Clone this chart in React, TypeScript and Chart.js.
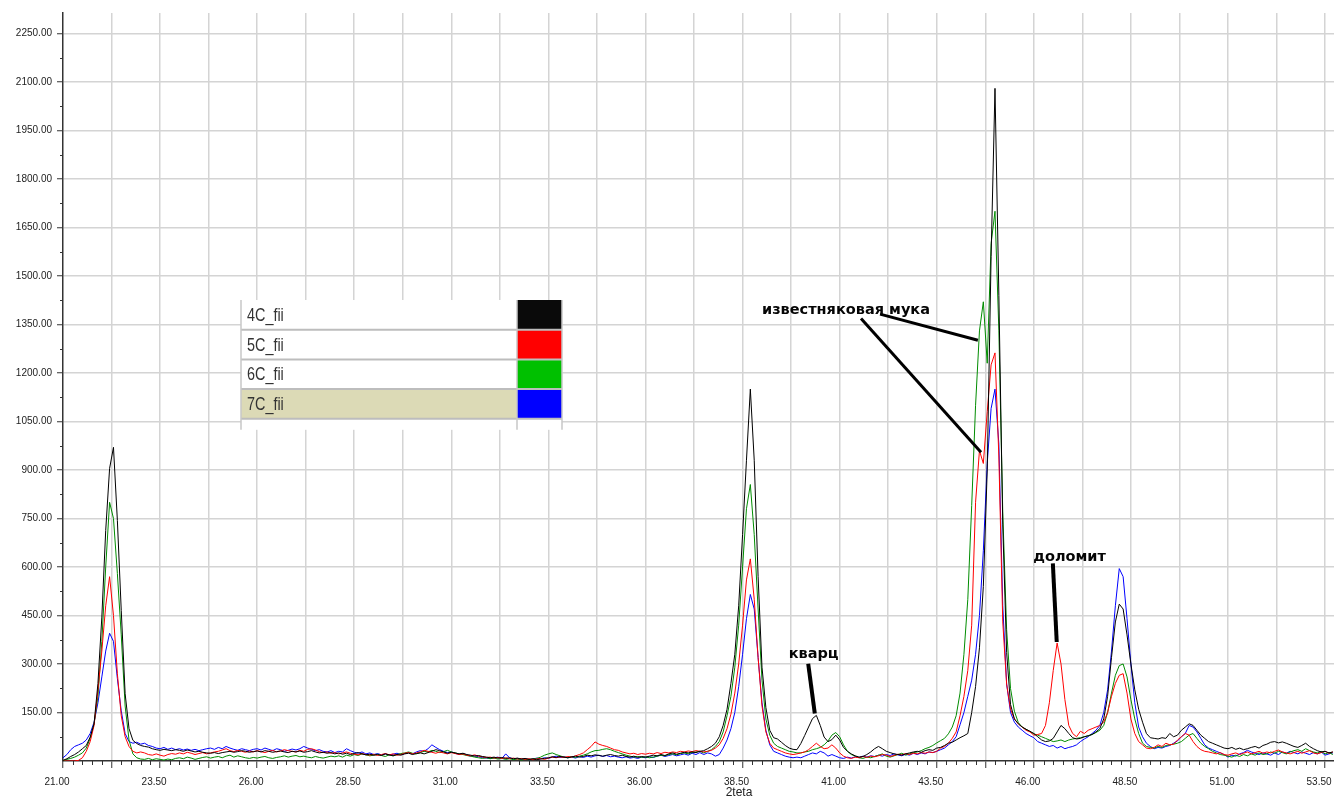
import React, { useEffect, useRef } from "react";
import { Chart, registerables } from "chart.js";

Chart.register(...registerables);

// ---------- data ----------
// 2theta sampling grid: 21.0 .. 53.7, step 0.1
const X_START = 21.0;
const X_STEP = 0.1;

const seriesNames = ["4C_fii", "5C_fii", "6C_fii", "7C_fii"];

// 4C_fii (black)
const s4C = [
  2, 7, 14, 20, 28, 38, 48, 74, 115, 240,
  445, 713, 905, 970, 744, 466, 208, 100, 64, 54,
  48, 45, 43, 38, 35, 33, 36, 34, 32, 35,
  33, 30, 34, 31, 28, 30, 27, 25, 24, 26,
  23, 26, 28, 30, 27, 29, 32, 30, 27, 29,
  31, 28, 32, 30, 27, 29, 31, 28, 26, 30,
  28, 31, 27, 29, 32, 28, 25, 27, 24, 26,
  22, 25, 21, 24, 20, 23, 26, 22, 19, 21,
  18, 20, 17, 22, 19, 16, 20, 18, 22, 24,
  20, 23, 25, 22, 26, 30, 35, 32, 28, 24,
  27, 25, 22, 24, 20, 18, 15, 17, 14, 12,
  10, 12, 9, 11, 8, 10, 7, 9, 6, 8,
  5, 7, 4, 6, 8, 10, 13, 11, 14, 12,
  10, 13, 15, 12, 14, 18, 16, 19, 17, 15,
  18, 20, 17, 15, 18, 14, 12, 15, 11, 14,
  12, 15, 18, 16, 20, 17, 22, 25, 21, 24,
  27, 25, 28, 26, 30, 32, 38, 45, 55, 75,
  110, 160, 240, 330, 480, 700, 930, 1150, 930, 570,
  290, 165, 95, 72, 68, 58, 48, 40, 36, 35,
  54, 79, 105, 131, 141, 110, 74, 60, 66, 80,
  65, 42, 30, 22, 16, 12, 14, 20, 28, 38,
  45, 38, 30, 26, 22, 20, 18, 22, 25, 28,
  30, 27, 32, 35, 33, 40, 42, 48, 55, 58,
  65, 72, 78, 85, 150, 230, 350, 540, 900, 1560,
  2080, 1440, 730, 336, 175, 130, 115, 105, 98, 92,
  85, 75, 65, 60, 62, 70, 90, 110, 100, 85,
  72, 68, 70, 75, 78, 82, 90, 100, 130, 200,
  320, 430, 485, 470, 390, 300, 220, 160, 120, 85,
  72, 70, 68, 72, 70, 85, 75, 80, 95, 105,
  115, 110, 95, 80, 70, 60, 55, 50, 45, 40,
  38, 42, 36, 40, 35, 38, 42, 45, 40, 48,
  52, 58, 60, 56, 59, 55, 50, 45, 42, 48,
  55, 45, 38, 32, 28, 30, 25, 28,
];

// 5C_fii (red)
const s5C = [
  0, 0, 0, 0, 2, 10, 30, 60, 110, 220,
  340, 480, 570, 450, 270, 140, 75, 45, 30, 25,
  28, 25, 20, 18, 22, 18, 15, 20, 23, 21,
  25, 22, 27, 24, 20, 23, 26, 22, 25, 28,
  30, 34, 38, 32, 29, 33, 30, 27, 31, 28,
  32, 29, 26, 30, 33, 28, 31, 35, 32, 30,
  28, 33, 30, 36, 38, 34, 29, 26, 28, 24,
  26, 22, 25, 28, 24, 21, 19, 23, 20, 18,
  21, 17, 20, 23, 19, 22, 18, 20, 24, 26,
  22, 25, 28, 33, 30, 27, 24, 28, 25, 22,
  26, 23, 20, 22, 18, 16, 19, 15, 13, 11,
  12, 9, 11, 8, 10, 7, 9, 6, 8, 5,
  7, 4, 6, 8, 5, 9, 12, 10, 13, 11,
  14, 12, 16, 20, 25, 35, 45, 59, 52, 48,
  45, 40, 35, 33, 28, 25, 22, 24, 20, 23,
  21, 24, 22, 26, 23, 27, 25, 28, 26, 30,
  28, 31, 29, 32, 30, 28, 30, 33, 40, 50,
  70, 100, 145, 210, 300, 420, 560, 625, 500, 320,
  170, 90, 55, 40, 35, 30, 25, 22, 20, 22,
  25, 28, 35, 45, 55, 45, 38, 40, 50, 40,
  25, 15, 10, 8, 12, 10, 14, 11, 15, 13,
  16, 20, 18, 14, 17, 21, 19, 23, 20, 24,
  22, 26, 24, 28, 26, 30, 40, 45, 55, 70,
  90, 140, 200, 280, 420, 800, 960, 920, 1080, 1225,
  1262, 940, 430, 238, 160, 130, 115, 105, 95, 90,
  80, 82, 85, 110, 180, 280, 365, 300, 190, 110,
  85, 75, 92, 85, 95, 100, 105, 110, 120, 150,
  200, 240, 265, 270, 210, 130, 85, 60, 50, 40,
  38, 42, 50, 45, 55, 50, 52, 65, 75, 85,
  80, 60, 45, 35, 30, 28, 25, 22, 26, 20,
  18, 22, 25, 20, 24, 28, 22, 26, 30, 24,
  28, 25, 30, 34, 28, 25, 22, 26, 30, 24,
  28, 32, 25, 22, 26, 30, 24, 28,
];

// 6C_fii (green)
const s6C = [
  0, 5, 8, 12, 18, 25, 40, 70, 115, 200,
  370, 600, 800, 750, 580, 390, 170, 65, 22, 10,
  6, 5, 8, 4, 7, 5, 3, 6, 4, 8,
  10, 7, 12, 9, 5, 8, 11, 13, 9, 12,
  14, 10, 15, 18, 12, 16, 13, 10, 8, 11,
  9, 12, 14, 10, 8, 11, 13, 16, 12, 15,
  17, 13, 15, 12, 10, 14, 11, 9, 12, 15,
  13, 16, 12, 18, 15, 20, 17, 22, 19, 16,
  18, 21, 17, 14, 19, 16, 20, 23, 25, 28,
  24, 22, 26, 30, 28, 33, 30, 26, 29, 33,
  28, 25, 22, 20, 17, 15, 12, 10, 8, 10,
  7, 9, 6, 8, 5, 7, 4, 6, 3, 5,
  4, 6, 8, 12, 18, 22, 25, 20, 16, 12,
  10, 13, 11, 15, 18, 22, 28, 32, 33, 36,
  38, 35, 30, 26, 22, 18, 15, 12, 14, 11,
  13, 10, 12, 15, 18, 16, 20, 22, 19, 23,
  25, 22, 26, 28, 30, 25, 30, 35, 45, 60,
  90, 140, 200, 290, 420, 600, 780, 855, 700, 470,
  250, 130, 80, 55, 45, 40, 35, 30, 28, 25,
  25, 28, 30, 35, 38, 42, 50, 62, 80, 88,
  75, 50, 30, 20, 15, 10, 8, 12, 10, 14,
  18, 22, 15, 12, 16, 20, 24, 18, 22, 26,
  28, 32, 38, 42, 48, 56, 63, 70, 84, 105,
  140, 210, 330, 500, 790, 1100, 1330, 1420, 1230, 1600,
  1700, 1330, 770, 406, 224, 154, 119, 105, 98, 91,
  84, 80, 75, 70, 65, 60, 62, 65, 60, 65,
  68, 70, 72, 75, 78, 82, 88, 95, 110, 150,
  210, 265, 295, 300, 260, 190, 130, 85, 55, 45,
  42, 40, 45, 42, 48, 50, 52, 55, 60, 70,
  80, 85, 70, 55, 45, 38, 30, 25, 20, 18,
  15, 12, 18, 14, 20, 16, 22, 18, 25, 20,
  22, 28, 24, 30, 26, 22, 28, 32, 35, 30,
  38, 32, 28, 25, 30, 22, 26, 20,
];

// 7C_fii (blue)
const s7C = [
  10, 20, 35, 45, 50, 55, 65, 85, 120, 180,
  260, 340, 395, 370, 255, 155, 85, 60, 55, 58,
  52, 55, 48, 45, 40, 38, 42, 36, 40, 35,
  38, 34, 37, 33, 36, 32, 35, 38, 40, 36,
  42, 38, 45, 40, 36, 33, 38, 35, 32, 36,
  38, 34, 40, 36, 32, 38, 35, 30, 33, 37,
  34, 38, 45, 40, 36, 32, 35, 30, 28, 32,
  26, 30, 28, 38, 32, 27, 24, 28, 22, 25,
  20, 23, 19, 22, 18, 21, 24, 20, 23, 26,
  22, 28, 32, 30, 38, 50, 42, 35, 30, 26,
  28, 24, 20, 23, 18, 15, 17, 13, 11, 9,
  8, 10, 12, 7, 22, 10, 6, 8, 5, 7,
  4, 6, 9, 7, 10, 8, 12, 15, 11, 13,
  10, 12, 9, 14, 11, 15, 12, 16, 18, 14,
  17, 13, 15, 12, 10, 13, 9, 11, 8, 12,
  10, 13, 11, 15, 18, 14, 17, 20, 16, 19,
  22, 18, 24, 20, 26, 20, 25, 22, 15, 20,
  40, 65, 100, 150, 230, 330, 440, 515, 470, 320,
  180, 95, 50, 30, 25, 20, 15, 12, 10, 12,
  10, 15, 20, 25, 22, 30, 25, 15, 20, 15,
  10, 8, 12, 9, 13, 11, 15, 12, 16, 14,
  18, 15, 20, 17, 22, 19, 16, 21, 18, 24,
  20, 25, 22, 28, 26, 30, 35, 40, 50, 60,
  75, 112, 150, 200, 250, 330, 450, 650, 920, 1090,
  1150, 980, 480, 238, 150, 120, 105, 95, 85, 78,
  72, 60, 55, 50, 45, 48, 40, 45, 38, 42,
  45, 50, 60, 68, 75, 85, 95, 110, 150, 220,
  340, 480, 595, 570, 440, 300, 180, 105, 75, 55,
  45, 38, 42, 40, 45, 48, 55, 62, 75, 85,
  110, 105, 90, 70, 50, 40, 35, 30, 25, 20,
  12, 18, 15, 22, 26, 33, 28, 24, 20, 25,
  22, 18, 25, 20, 28, 24, 30, 26, 22, 28,
  24, 20, 26, 22, 28, 18, 22, 25,
];

const seriesValues = [s4C, s5C, s6C, s7C];
const twoTheta = s4C.map((_, i) => Math.round((X_START + i * X_STEP) * 10) / 10);

// axis / tick settings
const X_MIN = 21.0;
const X_MAX = 53.73;
const Y_MIN = 0;
const Y_MAX = 2313;
const X_LABEL_STEP = 2.5;
const X_GRID_STEP = 1.25;
const X_MINOR_STEP = 0.25;
const Y_LABEL_STEP = 150;
const Y_MINOR_STEP = 75;
const X_TITLE = "2teta";

// annotation texts (anchored in data coordinates)
const noteTexts = ["известняковая мука", "кварц", "доломит"];
const noteAnchors = [
  { x: 39.0, y: 1382, align: "left" },
  { x: 40.33, y: 320, align: "center" },
  { x: 46.92, y: 619, align: "center" },
];
const pointerLines = [
  { x1: 42.04, y1: 1382, x2: 44.56, y2: 1301, w: 3 },
  { x1: 41.55, y1: 1368, x2: 44.64, y2: 955, w: 3 },
  { x1: 40.19, y1: 301, x2: 40.36, y2: 147, w: 4 },
  { x1: 46.49, y1: 611, x2: 46.59, y2: 368, w: 4 },
];

// ---------- styles ----------
const lineColors = ["#000000", "#ff0000", "#008c00", "#0000ff"];
const swatchColors = ["#0a0a0a", "#ff0000", "#00c000", "#0000ff"];
const GRID_COLOR = "#d4d4d4";
const AXIS_COLOR = "#333333";
const TEXT_COLOR = "#222222";
const TICK_FONT = "'Liberation Sans', Arial, sans-serif";

const isMult = (v: number, step: number, base = 0) => {
  const r = (v - base) / step;
  return Math.abs(r - Math.round(r)) < 1e-6;
};

const overlayPlugin = {
  id: "overlay",
  afterDraw(chart: any) {
    const { ctx, chartArea, scales } = chart;
    const xs = scales.x;
    const ys = scales.y;
    ctx.save();

    // minor ticks
    ctx.strokeStyle = AXIS_COLOR;
    ctx.lineWidth = 1;
    ctx.beginPath();
    xs.ticks.forEach((t: any) => {
      if (isMult(t.value, X_GRID_STEP, X_MIN)) return;
      if (!isMult(t.value, X_MINOR_STEP, X_MIN)) return;
      const px = Math.round(xs.getPixelForValue(t.value)) + 0.5;
      ctx.moveTo(px, chartArea.bottom);
      ctx.lineTo(px, chartArea.bottom + 4);
    });
    ys.ticks.forEach((t: any) => {
      if (isMult(t.value, Y_LABEL_STEP) || !isMult(t.value, Y_MINOR_STEP)) return;
      const py = Math.round(ys.getPixelForValue(t.value)) + 0.5;
      ctx.moveTo(chartArea.left - 3, py);
      ctx.lineTo(chartArea.left, py);
    });
    ctx.stroke();

    // pointer lines
    ctx.strokeStyle = "#000";
    ctx.lineCap = "butt";
    pointerLines.forEach((p) => {
      ctx.lineWidth = p.w;
      ctx.beginPath();
      ctx.moveTo(xs.getPixelForValue(p.x1), ys.getPixelForValue(p.y1));
      ctx.lineTo(xs.getPixelForValue(p.x2), ys.getPixelForValue(p.y2));
      ctx.stroke();
    });

    // annotation texts
    ctx.fillStyle = "#050505";
    ctx.font = "bold 14.5px 'DejaVu Sans', Verdana, sans-serif";
    ctx.textBaseline = "alphabetic";
    noteTexts.forEach((txt, i) => {
      const a = noteAnchors[i];
      ctx.textAlign = a.align as CanvasTextAlign;
      ctx.fillText(txt, xs.getPixelForValue(a.x), ys.getPixelForValue(a.y));
    });

    // table legend
    const lx = 241;
    const lTop = 300;
    const rowH = 29.7;
    const split = 517;
    const rx = 562;
    const datasets = chart.data.datasets;
    const n = datasets.length;
    const tableBottom = lTop + n * rowH + 11;
    ctx.fillStyle = "#ffffff";
    ctx.fillRect(lx, lTop, rx - lx, tableBottom - lTop);
    datasets.forEach((ds: any, i: number) => {
      const top = lTop + i * rowH;
      if (i === n - 1) {
        ctx.fillStyle = "#dcdab6";
        ctx.fillRect(lx, top, split - lx, rowH);
      }
      ctx.fillStyle = swatchColors[i];
      ctx.fillRect(split, top, rx - split, rowH);
      ctx.save();
      ctx.translate(lx + 6, top + rowH / 2 + 1);
      ctx.scale(0.8, 1);
      ctx.fillStyle = "#333";
      ctx.font = "18px 'Liberation Sans', Arial, sans-serif";
      ctx.textAlign = "left";
      ctx.textBaseline = "middle";
      ctx.fillText(ds.label, 0, 0);
      ctx.restore();
    });
    ctx.strokeStyle = "#bdbdbd";
    ctx.lineWidth = 2;
    ctx.beginPath();
    for (let i = 1; i <= n; i++) {
      const y = lTop + i * rowH;
      ctx.moveTo(lx, y);
      ctx.lineTo(rx, y);
    }
    ctx.stroke();
    ctx.strokeStyle = "#c8c8c8";
    ctx.lineWidth = 1.5;
    ctx.beginPath();
    [lx, split, rx].forEach((x) => {
      ctx.moveTo(x, lTop);
      ctx.lineTo(x, tableBottom);
    });
    ctx.stroke();

    // x axis title
    ctx.fillStyle = TEXT_COLOR;
    ctx.font = `12px ${TICK_FONT}`;
    ctx.textAlign = "center";
    ctx.textBaseline = "middle";
    ctx.fillText(X_TITLE, chart.width * 0.554, 793);

    ctx.restore();
  },
};

export default function App() {
  const canvasRef = useRef<HTMLCanvasElement | null>(null);

  useEffect(() => {
    if (!canvasRef.current) return;
    const chart = new Chart(canvasRef.current, {
      type: "line",
      data: {
        datasets: seriesNames.map((name, i) => ({
          label: name,
          data: twoTheta.map((x, j) => ({ x, y: seriesValues[i][j] })),
          borderColor: lineColors[i],
          backgroundColor: lineColors[i],
          borderWidth: 1,
          pointRadius: 0,
          tension: 0,
          fill: false,
        })),
      },
      options: {
        animation: false,
        responsive: true,
        maintainAspectRatio: false,
        events: [],
        layout: { padding: { top: 13, right: 0, bottom: 0, left: 0 } },
        plugins: {
          legend: { display: false },
          tooltip: { enabled: false },
          title: { display: false },
        },
        scales: {
          x: {
            type: "linear",
            min: X_MIN,
            max: X_MAX,
            border: { display: true, color: AXIS_COLOR, width: 1.5 },
            grid: {
              color: (c: any) =>
                c.tick && isMult(c.tick.value, X_GRID_STEP, X_MIN) && c.tick.value > X_MIN
                  ? GRID_COLOR
                  : "rgba(0,0,0,0)",
              lineWidth: 1.5,
              tickLength: 7,
              tickColor: (c: any) =>
                c.tick && isMult(c.tick.value, X_GRID_STEP, X_MIN) ? AXIS_COLOR : "rgba(0,0,0,0)",
              tickWidth: 1,
            },
            ticks: {
              stepSize: X_MINOR_STEP,
              autoSkip: false,
              includeBounds: false,
              maxRotation: 0,
              minRotation: 0,
              padding: 8,
              labelOffset: -6,
              color: TEXT_COLOR,
              font: { family: TICK_FONT, size: 10 },
              callback: (v: any) => (isMult(Number(v), X_LABEL_STEP, X_MIN) ? Number(v).toFixed(2) : ""),
            },
            afterFit: (s: any) => {
              s.height = 41;
              s.paddingLeft = 0;
              s.paddingRight = 0;
            },
          },
          y: {
            type: "linear",
            min: Y_MIN,
            max: Y_MAX,
            border: { display: true, color: AXIS_COLOR, width: 1.5 },
            grid: {
              color: (c: any) =>
                c.tick && isMult(c.tick.value, Y_LABEL_STEP) && c.tick.value > 0
                  ? GRID_COLOR
                  : "rgba(0,0,0,0)",
              lineWidth: 1.5,
              tickLength: 6,
              tickColor: (c: any) =>
                c.tick && isMult(c.tick.value, Y_LABEL_STEP) && c.tick.value > 0
                  ? AXIS_COLOR
                  : "rgba(0,0,0,0)",
              tickWidth: 1,
            },
            ticks: {
              stepSize: Y_MINOR_STEP,
              autoSkip: false,
              includeBounds: false,
              padding: 5,
              color: TEXT_COLOR,
              font: { family: TICK_FONT, size: 10 },
              callback: (v: any) => {
                const n = Number(v);
                return isMult(n, Y_LABEL_STEP) && n > 0 ? n.toFixed(2) : "";
              },
            },
            afterFit: (s: any) => {
              s.width = 63;
              s.paddingTop = 0;
              s.paddingBottom = 0;
            },
          },
        },
      },
      plugins: [overlayPlugin],
    } as any);
    return () => chart.destroy();
  }, []);

  return (
    <div style={{ position: "absolute", left: 0, top: 0, width: 1334, height: 802, background: "#fff" }}>
      <canvas ref={canvasRef} />
    </div>
  );
}
